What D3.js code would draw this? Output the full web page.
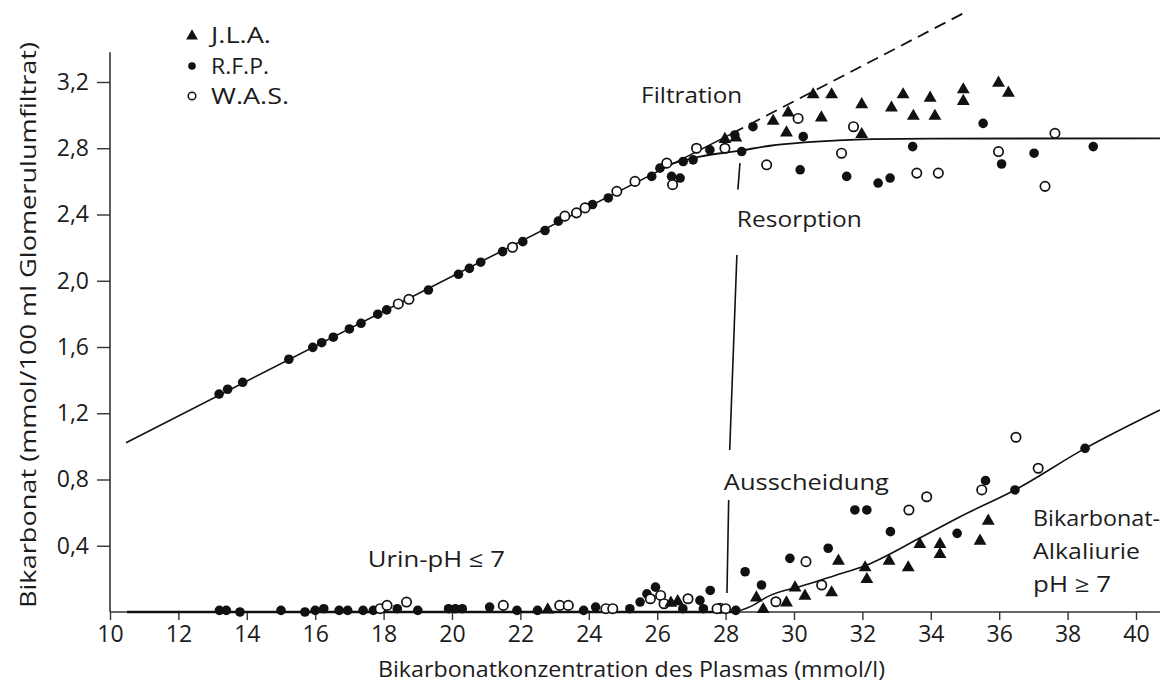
<!DOCTYPE html>
<html>
<head>
<meta charset="utf-8">
<script src="https://cdn.jsdelivr.net/npm/d3@7"></script>
<style>
  html, body { margin: 0; padding: 0; background: #fff; }
  svg { display: block; }
  text { font-family: "Open Sans", "DejaVu Sans", sans-serif; fill: #1c1c1c; }
</style>
</head>
<body>
<svg id="chart" width="1170" height="690"></svg>
<script>
// ---------- data ----------
const xTicks = [10, 12, 14, 16, 18, 20, 22, 24, 26, 28, 30, 32, 34, 36, 38, 40];
const yTicks = [0.4, 0.8, 1.2, 1.6, 2.0, 2.4, 2.8, 3.2];
const seriesNames = ["J.L.A.", "R.F.P.", "W.A.S."];

// J.L.A. (triangles)
const jla = [
  [27.98,2.86],[28.3,2.87],[29.39,2.97],[29.83,3.02],[29.78,2.90],[30.56,3.13],[30.8,2.99],[31.1,3.13],
  [31.98,3.07],[31.98,2.89],[32.85,3.05],[33.19,3.13],[33.49,3.0],[33.98,3.11],[34.12,3.0],
  [34.95,3.16],[34.95,3.09],[35.98,3.2],[36.27,3.14],
  [35.68,0.556],[35.44,0.435],[34.27,0.415],[34.27,0.354],[33.68,0.415],[33.34,0.274],[32.78,0.314],
  [32.08,0.274],[32.13,0.203],[31.3,0.314],[31.1,0.123],[30.32,0.103],[30.03,0.153],[29.78,0.062],
  [29.1,0.022],[28.9,0.092],[26.4,0.06],[26.6,0.07],[22.8,0.02]
];

// R.F.P. (filled circles)
const rfp = [
  [13.19,1.316],[13.44,1.345],[13.88,1.387],[15.23,1.526],[15.93,1.598],[16.19,1.626],[16.53,1.659],
  [17.0,1.709],[17.34,1.743],[17.83,1.798],[18.09,1.824],[19.31,1.944],[20.19,2.039],[20.51,2.075],
  [20.84,2.112],[21.48,2.176],[22.07,2.236],[22.72,2.303],[23.11,2.36],[24.11,2.46],[24.57,2.50],
  [25.84,2.63],[26.08,2.68],[26.42,2.63],[26.67,2.62],[26.76,2.72],[27.05,2.73],[27.54,2.79],
  [28.27,2.88],[28.47,2.78],[28.8,2.93],
  [30.27,2.87],[30.18,2.67],[31.54,2.63],[32.46,2.59],[32.81,2.62],[33.47,2.81],[35.53,2.95],
  [36.07,2.705],[37.02,2.77],[38.75,2.81],
  [38.51,0.988],[35.6,0.793],[36.46,0.737],[31.78,0.616],[32.13,0.616],[32.82,0.485],[34.77,0.475],
  [31.0,0.385],[29.88,0.324],[28.57,0.243],[29.05,0.163],
  [13.2,0.01],[13.4,0.01],[13.8,0.0],[15.0,0.01],[15.7,0.0],[16.0,0.01],[16.25,0.02],[16.7,0.01],
  [16.95,0.01],[17.4,0.01],[17.7,0.01],[18.4,0.02],[19.0,0.01],[19.9,0.02],[20.1,0.02],[20.3,0.02],
  [21.1,0.03],[21.9,0.01],[22.5,0.01],[23.85,0.01],[24.2,0.03],[25.2,0.02],[25.5,0.06],[25.7,0.11],
  [25.95,0.15],[26.75,0.02],[27.25,0.07],[27.55,0.13],[27.35,0.02],[28.3,0.01]
];

// W.A.S. (open circles)
const was = [
  [18.43,1.86],[18.74,1.888],[21.77,2.202],[23.3,2.39],[23.64,2.41],[23.89,2.44],[24.82,2.54],
  [25.35,2.60],[26.28,2.71],[26.45,2.58],[27.15,2.80],[27.98,2.80],
  [30.12,2.98],[31.74,2.93],[31.39,2.77],[29.2,2.70],[33.59,2.65],[34.22,2.65],[37.63,2.89],
  [35.98,2.78],[37.34,2.57],
  [36.49,1.055],[37.14,0.868],[35.49,0.737],[33.88,0.696],[33.36,0.616],[30.35,0.304],[30.81,0.163],
  [29.47,0.062],[27.84,0.022],
  [17.9,0.02],[18.1,0.04],[18.67,0.06],[21.5,0.04],[23.15,0.04],[23.4,0.04],[24.5,0.02],[24.7,0.02],
  [25.8,0.08],[26.1,0.10],[26.2,0.05],[26.9,0.08],[27.75,0.02],[28.0,0.02]
];

// curves
const filtrationLine   = [[10.47,1.022],[28.2,2.89]];
const filtrationDashed = [[28.2,2.89],[35.0,3.62]];
const resorptionCurve  = [[26.3,2.70],[27.25,2.75],[28.4,2.785],[29.3,2.815],[30.3,2.835],[31.3,2.848],[32.3,2.855],[34,2.858],[40.7,2.86]];
const excretionBase    = [[10.5,0],[28.3,0]];
const excretionCurve   = [[28.3,0],[28.8,0.04],[29.2,0.09],[30.27,0.16],[31.2,0.22],[32.13,0.284],[33.68,0.447],[35,0.59],[36.46,0.737],[38.51,0.988],[40.7,1.22]];
const guideLines = [
  [[28.42,2.71],[28.36,2.55]],
  [[28.33,2.156],[28.12,0.978]],
  [[28.09,0.676],[28.04,0.115]]
];
const labels = [
  {t:"Filtration",    x:25.53, y:3.073, w:101},
  {t:"Resorption",    x:28.33, y:2.325, w:125},
  {t:"Ausscheidung",  x:27.95, y:0.737, w:165},
  {t:"Urin-pH \u2264 7", x:17.54, y:0.272, w:137},
  {t:"Bikarbonat-",   x:36.99, y:0.519, w:127},
  {t:"Alkaliurie",    x:36.99, y:0.320, w:107},
  {t:"pH \u2265 7",   x:36.99, y:0.121, w:78}
];

// ---------- drawing ----------
const svg = d3.select("#chart");
const x = d3.scaleLinear().domain([10, 40]).range([110, 1136]);
const y = d3.scaleLinear().domain([0, 3.2]).range([612, 82]);
const line = d3.line().x(d => x(d[0])).y(d => y(d[1]));
const smooth = d3.line().x(d => x(d[0])).y(d => y(d[1])).curve(d3.curveMonotoneX);

// axes
const fmt = d => d.toFixed(1).replace(".", ",");
const gy = svg.append("g").attr("transform", `translate(${x(10)},0)`)
  .call(d3.axisLeft(y).tickValues(yTicks).tickSize(13).tickPadding(8).tickFormat(fmt));
gy.select(".domain").remove();
gy.selectAll("text").style("font-size", "23px").attr("fill", "#1c1c1c");
gy.selectAll("line").attr("stroke", "#333").attr("stroke-width", 1.4);
svg.append("line").attr("x1", x(10)).attr("x2", x(10)).attr("y1", y(3.38)).attr("y2", y(0))
  .attr("stroke", "#333").attr("stroke-width", 1.6);

const gx = svg.append("g").attr("transform", `translate(0,${y(0)})`)
  .call(d3.axisBottom(x).tickValues(xTicks).tickSize(8).tickPadding(6));
gx.select(".domain").remove();
gx.selectAll("text").style("font-size", "23px").attr("fill", "#1c1c1c");
gx.selectAll("line").attr("stroke", "#333").attr("stroke-width", 1.4);
svg.append("line").attr("x1", x(10)).attr("x2", x(40.7)).attr("y1", y(0)).attr("y2", y(0))
  .attr("stroke", "#333").attr("stroke-width", 1.6);

// axis titles
svg.append("text").attr("x", 378).attr("y", 677)
  .attr("textLength", 507).attr("lengthAdjust", "spacingAndGlyphs").style("font-size", "22px")
  .text("Bikarbonatkonzentration des Plasmas (mmol/l)");
svg.append("text").attr("transform", `translate(36,608) rotate(-90)`)
  .attr("textLength", 566).attr("lengthAdjust", "spacingAndGlyphs").style("font-size", "22px")
  .text("Bikarbonat (mmol/100 ml Glomerulumfiltrat)");

// curves
const curveG = svg.append("g").attr("fill", "none").attr("stroke", "#111");
curveG.append("path").attr("d", line(filtrationLine)).attr("stroke-width", 1.6);
curveG.append("path").attr("d", line(filtrationDashed)).attr("stroke-width", 1.8).attr("stroke-dasharray", "12,7");
curveG.append("path").attr("d", smooth(resorptionCurve)).attr("stroke-width", 1.8);
curveG.append("path").attr("d", line(excretionBase)).attr("stroke-width", 2.6);
curveG.append("path").attr("d", smooth(excretionCurve)).attr("stroke-width", 1.6);
guideLines.forEach(g => curveG.append("path").attr("d", line(g)).attr("stroke-width", 1.6));

// points
const tri = d3.symbol().type(d3.symbolTriangle).size(72);
svg.append("g").selectAll("circle").data(rfp).join("circle")
  .attr("cx", d => x(d[0])).attr("cy", d => y(d[1])).attr("r", 4.8).attr("fill", "#111");
svg.append("g").selectAll("circle").data(was).join("circle")
  .attr("cx", d => x(d[0])).attr("cy", d => y(d[1])).attr("r", 4.7)
  .attr("fill", "#fff").attr("stroke", "#111").attr("stroke-width", 1.7);
svg.append("g").selectAll("path").data(jla).join("path")
  .attr("d", tri).attr("transform", d => `translate(${x(d[0])},${y(d[1]) + 1})`).attr("fill", "#111");

// annotation labels
svg.append("g").selectAll("text").data(labels).join("text")
  .attr("x", d => x(d.x)).attr("y", d => y(d.y)).style("font-size", "22px")
  .attr("textLength", d => d.w).attr("lengthAdjust", "spacingAndGlyphs").text(d => d.t);

// legend
const lg = svg.append("g");
const legendRows = [
  {name: seriesNames[0], kind: "tri",  yy: 35, w: 60},
  {name: seriesNames[1], kind: "fill", yy: 66, w: 58},
  {name: seriesNames[2], kind: "open", yy: 96, w: 78}
];
legendRows.forEach(r => {
  if (r.kind === "tri") lg.append("path").attr("d", d3.symbol().type(d3.symbolTriangle).size(60)())
    .attr("transform", `translate(192,${r.yy + 1})`).attr("fill", "#111");
  else if (r.kind === "fill") lg.append("circle").attr("cx", 192).attr("cy", r.yy).attr("r", 3.8).attr("fill", "#111");
  else lg.append("circle").attr("cx", 192).attr("cy", r.yy).attr("r", 3.8).attr("fill", "#fff")
    .attr("stroke", "#111").attr("stroke-width", 1.5);
  lg.append("text").attr("x", 211).attr("y", r.yy + 8).style("font-size", "21px")
    .attr("textLength", r.w).attr("lengthAdjust", "spacingAndGlyphs").text(r.name);
});
</script>
</body>
</html>
